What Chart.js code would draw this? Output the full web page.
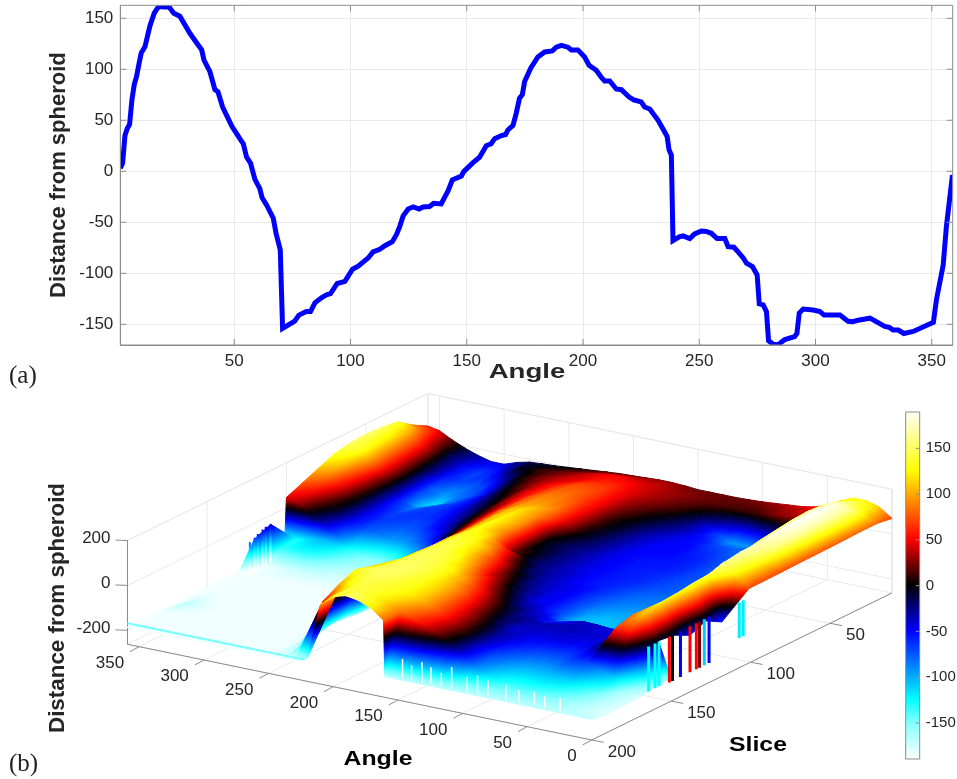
<!DOCTYPE html>
<html>
<head>
<meta charset="utf-8">
<style>
  html, body { margin: 0; background: #fff; }
  canvas { position: absolute; }
  .tag { position: absolute; left: 9px; font: 25px "Liberation Serif", serif; color: #222; }
</style>
<script src="https://cdn.jsdelivr.net/npm/chart.js@4/dist/chart.umd.min.js"></script>
</head>
<body>
<canvas id="surface" width="957" height="779" style="left:0;top:0"></canvas>
<canvas id="profile" width="957" height="390" style="left:0;top:0"></canvas>
<canvas id="bar" width="77" height="370" style="left:880px;top:400px"></canvas>
<div class="tag" style="top:361px">(a)</div>
<div class="tag" style="top:749px">(b)</div>
<script>
// panel (a), one slice
const profileAngle = [1,2,3,4,5,6,7,8,9,10,11.6,13.8,15.6,17,18,20,22,24,26.6,31,33.8,36,37,39.5,41.7,43,45,49,52.4,53.9,55.3,57,58.9,61,62,63.9,66.8,68,69.8,70.8,76,77.8,81,82.8,84.7,87.5,89.7,91.4,94.3,97.6,100.9,103.3,105.4,107.6,109.7,112.6,114.8,118,119.8,121.2,122.6,124.8,127,129.5,131.2,134,135.8,139,142,143.8,147.7,148.7,152.7,155.5,158.4,160.5,162,164.9,166.7,167.7,169.9,171.3,172.7,173.9,174.9,177.5,180.6,183.5,186.8,188.5,190.7,193.5,195,197.8,200.7,202.6,205.7,207.9,209.3,211.5,214.3,216.5,219.7,221.8,225,226.5,228.7,232.3,235,236.2,237,238,238.7,241.6,243,245.9,248,250.9,253,255.2,257.7,261,262.4,264.9,266.7,268.9,270.3,272.9,274.9,275.8,277.5,278.9,279.8,281.8,283.9,286.8,291,292,293,294.7,299,301.9,303.7,310.5,314,315.9,318.3,323.4,329.8,331.7,333.4,335.6,338,342,350.7,352,354.9,356.3,358.9];
const profileValue = [3,8,35,42,46,70,85,93,105,116,122,143,155,160,161.5,161,161,155,152,135,126,119,109,98,80,78,63,44,32,27,14,8,-8,-17,-26,-33,-46,-61,-77,-154,-147,-141,-137.5,-137.5,-129,-124,-121,-120,-110,-108,-96,-93,-89,-85,-79,-76.5,-73,-69,-62,-54,-44,-37,-35,-37,-35,-34.6,-31.4,-32,-19,-8.5,-4.6,-0.3,8.5,13.7,25,27,32,35,36,40.5,45,57,71.6,75,88,101,112,117,118,121.6,123.5,121.6,119,119,112,104,99,92,88.6,88.6,80.7,80,73,70,68,63,61,50,39,34,21,16,-68,-64,-63.4,-66,-61.4,-58.5,-59,-60.8,-66,-66,-74,-74.5,-79,-85,-90,-93.5,-101.6,-130,-131,-137.6,-166,-169.6,-170,-165,-162,-159,-139,-135,-136,-137.6,-141,-141,-147,-147.4,-146,-144,-152,-153,-155.6,-155.6,-159,-157,-148,-126,-92,-54,-3.6];
const profileXTicks = [50,100,150,200,250,300,350];
const profileYTicks = [-150,-100,-50,0,50,100,150];

// panel (b), one row per slice, columns follow surfAngles, null = no surface there
const surfAngles = [0,10,20,30,40,50,60,70,80,90,100,110,120,130,140,150,160,161,170,180,190,200,210,220,230,240,250,260,270,280,290,300,310,320,330,340,350,359];
const surfSlices = [11,20,30,40,50,60,70,80,90,100,101,110,120,130,140,150,160,170,180,190,200];
const surfZ = [
  [70,110,125,125,100,70,50,40,35,30,25,22,20,20,20,20,25,25,28,28,25,22,20,15,10,5,0,-5,-8,-12,-25,-45,-45,-30,-10,15,45,55],
  [80,125,150,140,80,40,30,30,25,15,10,12,15,18,22,28,32,32,38,42,45,50,48,40,30,22,15,10,0,-10,-40,-60,-70,-50,-20,25,70,90],
  [80,165,180,160,20,-50,-70,-85,-90,-95,-95,-70,-40,-10,10,20,30,30,38,48,60,60,55,45,40,32,22,8,-10,-40,-65,-75,-70,-55,-10,50,100,140],
  [78,170,188,165,-20,-70,-85,-90,-85,-75,-70,-55,-45,-30,-15,0,15,15,30,50,68,72,72,60,48,35,18,0,-25,-55,-75,-85,-95,-75,0,60,115,150],
  [76,172,190,160,-30,-75,-85,-85,-75,-65,-60,-50,-50,-45,-35,-15,0,0,20,50,70,80,80,68,52,35,8,-10,-35,-55,-70,-90,-125,-70,10,70,125,155],
  [75,170,188,150,-30,-70,-80,-80,-70,-60,-55,-50,-50,-50,-40,-25,-5,-5,15,50,78,88,88,75,52,30,0,-20,-40,-55,-65,-70,-85,-60,10,80,135,150],
  [74,165,182,140,-30,-65,-75,-75,-70,-60,-55,-55,-55,-50,-45,-30,-15,-15,0,45,90,98,95,78,50,20,-5,-30,-45,-60,-65,-65,-70,-50,5,60,115,135],
  [72,155,172,125,-30,-65,-75,-78,-72,-65,-60,-58,-55,-50,-45,-35,-25,-25,-15,0,90,115,105,80,45,15,-15,-40,-55,-70,-75,-70,-65,-45,0,45,90,105],
  [71,135,170,105,-30,-70,-78,-80,-75,-70,-62,-58,-55,-50,-45,-35,-25,-25,-10,0,95,122,108,75,40,5,-30,-60,-80,-95,-95,-85,-75,-50,-5,20,55,75],
  [70,125,160,95,-30,-75,-80,-85,-85,-80,-70,-60,-55,-50,-40,-35,-25,-25,-10,15,90,128,105,70,30,-10,-60,-100,-130,-150,-155,-150,-135,-80,-35,-5,30,45],
  [70,125,160,95,-30,-75,-80,-85,-85,-80,-70,-60,-55,-50,-40,-35,-25,-25,-10,15,90,128,105,70,30,-10,-60,-100,-130,-150,-155,-150,-135,-110,-105,-115,-130,-135],
  [null,-60,140,80,-30,-80,-85,-90,-95,-90,-80,-65,-50,-45,-40,-30,-15,-15,15,70,115,132,105,60,10,-50,-100,-140,-160,-170,-170,-165,-155,-140,-130,-130,-135,-40],
  [null,-20,135,70,-30,-85,-90,-100,-105,-105,-95,-70,-50,-45,-35,-20,10,10,55,105,132,138,110,50,-20,-90,-140,-165,-175,-180,-180,-178,-175,-175,-175,-180,-185,-70],
  [null,-50,125,55,-35,-90,-105,-110,-110,-110,-110,-70,-50,-45,-25,0,35,35,80,115,140,142,110,45,-50,-130,-170,-180,-182,-184,-186,-186,-186,-186,-186,-186,-186,-186],
  [null,-15,120,60,-20,-45,-45,-40,-38,-50,-65,-45,-35,-25,0,30,70,70,105,135,145,145,115,60,-50,-150,-180,-186,-186,-186,-186,-186,-186,-186,-186,-186,-186,-186],
  [-160,-5,110,85,-10,-40,-40,-38,-35,-35,-35,-30,-25,0,30,65,100,100,128,142,148,148,120,70,-40,-150,-182,-186,-186,-186,-186,-186,-186,-186,-186,-186,-186,-186],
  [-160,-100,60,65,-20,-45,-50,-45,-45,-45,-40,-40,-15,15,50,85,110,110,132,145,150,148,130,110,20,-130,-182,-186,-186,-186,-186,-186,-186,-186,-186,-186,-180,-186],
  [-178,-165,-110,-90,-70,-65,-75,-75,-70,-60,-45,-30,0,30,60,90,115,115,130,140,150,150,145,130,20,-140,-182,-186,-186,-186,-186,-186,-186,-186,-186,-180,-170,-186],
  [-178,-170,-150,-130,-110,-105,-105,-105,-100,-85,-70,-40,5,35,65,92,115,115,128,135,140,145,130,100,-30,-160,-184,-186,-186,-186,-186,-186,-186,-186,-186,-186,-186,-186],
  [-182,-175,-165,-155,-145,-140,-135,-135,-130,-115,-90,-50,-10,20,45,65,85,85,110,130,140,140,105,60,-120,-170,-184,-186,-186,-186,-186,-186,-186,-186,-186,-186,-186,-186],
  [-170,-170,-170,-170,-170,-170,-170,-170,-170,-170,-170,-170,-170,-170,-170,-170,-170,80,120,145,155,140,90,-160,-186,-186,-186,-186,-186,-186,-186,-186,-186,-186,-186,-186,-186,-186]
];
// thin drops hanging from the surface edge
const frontSpikeSlices = [156,152,149.5,143,141,136,130,126,124,121,118,99,96.5];
const frontSpikeValues = [-125,-125,-125,50,0,-50,50,50,25,-110,-50,-120,-120];
const frontSpikeBottom = [-210,-210,-210,-215,-215,-215,-215,-215,-215,-215,-215,-170,-170];
const edgeSpikeSlices = [123,120,118,115,113,110];
const edgeSpikeTop = [-75,-65,-55,-45,-40,-40];
const edgeSpikeBottom = [-230,-225,-220,-215,-215,-210];
const wallSpikeAngles = [150,143,135,128,120,112,100,92,84,70,60,48,40,28];
const wallSpikeTop = [-90,-110,-85,-100,-115,-80,-110,-95,-105,-110,-120,-115,-125,-120];

const angleTicks = [0,50,100,150,200,250,300,350];
const sliceTicks = [50,100,150,200];
const zTicks = [-200,0,200];
const barTicks = [-150,-100,-50,0,50,100,150];

const GREY = '#8c8c8c', GRID = '#e9e9e9', INK = '#262626';

// colormap of the colorbar
const cmapStops = [[-190,255,255,255],[-150,128,255,255],[-125,0,255,255],[-50,0,0,255],[0,0,0,0],[50,255,0,0],[125,255,255,0],[190,255,255,255]];
function cmap(z) {
  z = Math.max(-190, Math.min(190, z));
  for (let i = 1; i < cmapStops.length; i++) {
    const p = cmapStops[i - 1], q = cmapStops[i];
    if (z <= q[0]) {
      const t = (z - p[0]) / (q[0] - p[0]);
      return 'rgb(' + [1, 2, 3].map(k => Math.round(p[k] + t * (q[k] - p[k]))).join(',') + ')';
    }
  }
}

// view of the 3D axes box
function project(a, s, z) {
  const d = 200 - s;
  return {
    x: 591.7 - 1.293 * a + 1.589 * d,
    y: 740 - 0.2667 * a - 0.778 * d - (z + 262) * 0.2245,
  };
}

function stretched(ctx, text, x, y, font, sx, color) {
  ctx.save();
  ctx.font = font;
  ctx.fillStyle = color;
  ctx.textAlign = 'center';
  ctx.textBaseline = 'middle';
  ctx.translate(x, y);
  ctx.scale(sx, 1);
  ctx.fillText(text, 0, 0);
  ctx.restore();
}

// panel (a)
new Chart(document.getElementById('profile'), {
  type: 'scatter',
  data: {
    datasets: [{
      data: profileAngle.map((a, i) => ({ x: a, y: profileValue[i] })),
      showLine: true,
      borderColor: '#0000ff',
      borderWidth: 5,
      pointRadius: 0,
      clip: 0,
    }],
  },
  options: {
    responsive: false,
    animation: false,
    events: [],
    layout: { padding: { left: 46, right: 4.3, top: 5.3, bottom: 0 } },
    plugins: { legend: { display: false }, tooltip: { enabled: false } },
    scales: {
      x: {
        type: 'linear', min: 1, max: 359,
        afterBuildTicks: s => { s.ticks = profileXTicks.map(v => ({ value: v })); },
        afterFit: s => { s.height = 45; s.paddingLeft = 0; s.paddingRight = 0; },
        grid: { color: GRID, drawTicks: false },
        border: { color: GREY },
        ticks: { padding: 6, color: INK, maxRotation: 0, font: { family: 'Liberation Sans', size: 17 }, callback: v => String(v) },
      },
      y: {
        min: -170.3, max: 162.7,
        afterBuildTicks: s => { s.ticks = profileYTicks.map(v => ({ value: v })); },
        afterFit: s => { s.width = 74.3; s.paddingTop = 0; s.paddingBottom = 0; },
        grid: { color: GRID, drawTicks: false },
        border: { color: GREY },
        ticks: { padding: 7, color: INK, font: { family: 'Liberation Sans', size: 17 }, callback: v => String(v) },
        title: { display: true, text: 'Distance from spheroid', color: INK, padding: 0, font: { family: 'Liberation Sans', size: 22, weight: 'bold' } },
      },
    },
  },
  plugins: [{
    id: 'box',
    afterDraw(chart) {
      const { ctx, chartArea: c, scales } = chart;
      ctx.save();
      ctx.strokeStyle = GREY;
      ctx.lineWidth = 1;
      ctx.beginPath();
      ctx.rect(c.left, c.top, c.right - c.left, c.bottom - c.top);
      profileXTicks.forEach(v => {
        const x = scales.x.getPixelForValue(v);
        ctx.moveTo(x, c.top); ctx.lineTo(x, c.top + 6);
        ctx.moveTo(x, c.bottom); ctx.lineTo(x, c.bottom - 6);
      });
      profileYTicks.forEach(v => {
        const y = scales.y.getPixelForValue(v);
        ctx.moveTo(c.left, y); ctx.lineTo(c.left + 6, y);
        ctx.moveTo(c.right, y); ctx.lineTo(c.right - 6, y);
      });
      ctx.stroke();
      ctx.restore();
      stretched(ctx, 'Angle', 527, 372, 'bold 20px "Liberation Sans"', 1.38, INK);
    },
  }],
});

// panel (b): a triangle is filled with a gradient that follows its height
const helper = document.createElement('canvas').getContext('2d');
function rampStops(g, hi, lo) {
  const n = Math.max(2, Math.ceil(Math.abs(hi - lo) / 12));
  for (let i = 0; i <= n; i++) g.addColorStop(i / n, cmap(lo + (hi - lo) * i / n));
  return g;
}
function triGradient(v) {
  const zs = v.map(p => p.z);
  const lo = Math.min(...zs), hi = Math.max(...zs);
  const [p0, p1, p2] = v.map(p => project(p.a, p.s, p.z));
  const det = (p1.x - p0.x) * (p2.y - p0.y) - (p2.x - p0.x) * (p1.y - p0.y);
  if (hi - lo < 1 || Math.abs(det) < 0.5) return cmap((lo + hi) / 2);
  const gx = ((zs[1] - zs[0]) * (p2.y - p0.y) - (zs[2] - zs[0]) * (p1.y - p0.y)) / det;
  const gy = ((zs[2] - zs[0]) * (p1.x - p0.x) - (zs[1] - zs[0]) * (p2.x - p0.x)) / det;
  const start = [p0, p1, p2][zs.indexOf(lo)];
  const t = (hi - lo) / (gx * gx + gy * gy);
  return rampStops(helper.createLinearGradient(start.x, start.y, start.x + gx * t, start.y + gy * t), hi, lo);
}
function triDataset(v) {
  const paint = triGradient(v);
  const pts = v.concat(v[0]).map(p => project(p.a, p.s, p.z));
  return { data: pts, showLine: true, fill: 'shape', backgroundColor: paint, borderColor: paint, borderWidth: 1, pointRadius: 0 };
}
function lineDataset(points, color, width) {
  return { data: points, showLine: true, borderColor: color, borderWidth: width || 1, pointRadius: 0, fill: false };
}
function dropGradient(a, s, top, bottom) {
  const p = project(a, s, top), q = project(a, s, bottom);
  return rampStops(helper.createLinearGradient(q.x, q.y, p.x, p.y), top, bottom);
}

const surfaceSets = [];
// front to back: chart.js paints the first dataset last
for (let j = surfSlices.length - 2; j >= 0; j--) {
  for (let i = 0; i < surfAngles.length - 1; i++) {
    const corner = (ii, jj) => ({ a: surfAngles[ii], s: surfSlices[jj], z: surfZ[jj][ii] });
    const near = [corner(i, j + 1), corner(i + 1, j + 1), corner(i, j)];
    const far = [corner(i + 1, j), corner(i + 1, j + 1), corner(i, j)];
    if (near.every(p => p.z !== null)) surfaceSets.push(triDataset(near));
    if (far.every(p => p.z !== null)) surfaceSets.push(triDataset(far));
  }
}

const aMax = 359, sMin = 11, sMax = 200, zMin = -262, zMax = 200;
const spikeSets = [];
frontSpikeSlices.forEach((s, i) => {
  spikeSets.push(lineDataset([project(10, s, -10), project(10, s, frontSpikeBottom[i])], cmap(frontSpikeValues[i]), 3));
});
edgeSpikeSlices.forEach((s, i) => {
  spikeSets.push(lineDataset([project(aMax, s, edgeSpikeTop[i]), project(aMax, s, edgeSpikeBottom[i])], dropGradient(aMax, s, edgeSpikeTop[i], edgeSpikeBottom[i]), 2));
});
wallSpikeAngles.forEach((a, i) => {
  spikeSets.push(lineDataset([project(a, 197, wallSpikeTop[i]), project(a, 197, -175)], '#ffffff', 1.5));
});
spikeSets.push(lineDataset([project(aMax, sMax, -168), project(222, sMax, -168)], cmap(-148), 2));

const axisSets = [
  lineDataset([project(aMax, sMax, zMax), project(aMax, sMax, zMin), project(0, sMax, zMin), project(0, sMin, zMin)], GREY),
];
const wallSets = [
  lineDataset([project(aMax, sMax, zMax), project(aMax, sMin, zMax), project(0, sMin, zMax), project(0, sMin, zMin), project(aMax, sMin, zMin), project(aMax, sMax, zMin)], GRID),
  lineDataset([project(aMax, sMin, zMax), project(aMax, sMin, zMin)], GRID),
];
angleTicks.forEach(a => {
  wallSets.push(lineDataset([project(a, sMax, zMin), project(a, sMin, zMin), project(a, sMin, zMax)], GRID));
  const p = project(a, sMax, zMin);
  axisSets.push(lineDataset([p, { x: p.x - 9, y: p.y + 5 }], GREY));
});
sliceTicks.forEach(s => {
  wallSets.push(lineDataset([project(0, s, zMin), project(aMax, s, zMin), project(aMax, s, zMax)], GRID));
  const p = project(0, s, zMin);
  axisSets.push(lineDataset([p, { x: p.x + 12, y: p.y + 2.3 }], GREY));
});
zTicks.forEach(z => {
  wallSets.push(lineDataset([project(aMax, sMax, z), project(aMax, sMin, z), project(0, sMin, z)], GRID));
  const p = project(aMax, sMax, z);
  axisSets.push(lineDataset([p, { x: p.x - 12, y: p.y - 0.5 }], GREY));
});

new Chart(document.getElementById('surface'), {
  type: 'scatter',
  data: { datasets: spikeSets.concat(surfaceSets, axisSets, wallSets) },
  options: {
    responsive: false,
    animation: false,
    events: [],
    layout: { padding: 0 },
    plugins: { legend: { display: false }, tooltip: { enabled: false }, filler: { drawTime: 'beforeDatasetDraw', propagate: false } },
    scales: {
      x: { type: 'linear', min: 0, max: 957, display: false },
      y: { type: 'linear', min: 0, max: 779, reverse: true, display: false },
    },
  },
  plugins: [{
    id: 'labels3d',
    afterDraw(chart) {
      const { ctx, scales } = chart;
      const px = p => ({ x: scales.x.getPixelForValue(p.x), y: scales.y.getPixelForValue(p.y) });
      ctx.save();
      ctx.fillStyle = INK;
      ctx.font = '17px "Liberation Sans"';
      ctx.textBaseline = 'middle';
      ctx.textAlign = 'right';
      angleTicks.forEach(a => {
        const p = px(project(a, sMax, zMin));
        ctx.fillText(String(a), p.x - 15, p.y + 16.5);
      });
      zTicks.forEach(z => {
        const p = px(project(aMax, sMax, z));
        ctx.fillText(String(z), p.x - 17, p.y - 2);
      });
      ctx.textAlign = 'left';
      sliceTicks.forEach(s => {
        const p = px(project(0, s, zMin));
        ctx.fillText(String(s), p.x + 16, p.y + 12);
      });
      ctx.translate(58, 608);
      ctx.rotate(-Math.PI / 2);
      ctx.textAlign = 'center';
      ctx.font = 'bold 22.4px "Liberation Sans"';
      ctx.fillText('Distance from spheroid', 0, 0);
      ctx.restore();
      stretched(ctx, 'Angle', 378, 759, 'bold 20.5px "Liberation Sans"', 1.21, '#000');
      stretched(ctx, 'Slice', 758, 745, 'bold 20.5px "Liberation Sans"', 1.21, '#000');
    },
  }],
});

// colorbar
const barStep = 2;
const barSets = [];
for (let v = -190; v < 190; v += barStep) {
  barSets.push({ data: [[v, v + barStep + 0.4]], backgroundColor: cmap(v + barStep / 2), barPercentage: 1, categoryPercentage: 1, grouped: false });
}
new Chart(document.getElementById('bar'), {
  type: 'bar',
  data: { labels: [''], datasets: barSets },
  options: {
    responsive: false,
    animation: false,
    events: [],
    layout: { padding: { left: 25.7, right: 0, top: 12, bottom: 11 } },
    plugins: { legend: { display: false }, tooltip: { enabled: false } },
    scales: {
      x: { display: false },
      y: {
        position: 'right', min: -189.4, max: 189.7,
        afterBuildTicks: s => { s.ticks = barTicks.map(v => ({ value: v })); },
        afterFit: s => { s.width = 37.3; s.paddingTop = 0; s.paddingBottom = 0; },
        grid: { display: false, drawTicks: false },
        border: { display: false },
        ticks: { padding: 6, color: INK, font: { family: 'Liberation Sans', size: 15 }, callback: v => String(v) },
      },
    },
  },
  plugins: [{
    id: 'barBox',
    afterDraw(chart) {
      const { ctx, chartArea: c, scales } = chart;
      ctx.save();
      ctx.strokeStyle = GREY;
      ctx.beginPath();
      ctx.rect(c.left, c.top, c.right - c.left, c.bottom - c.top);
      barTicks.forEach(v => {
        const y = scales.y.getPixelForValue(v);
        ctx.moveTo(c.right, y); ctx.lineTo(c.right - 4, y);
      });
      ctx.stroke();
      ctx.restore();
    },
  }],
});
</script>
</body>
</html>
